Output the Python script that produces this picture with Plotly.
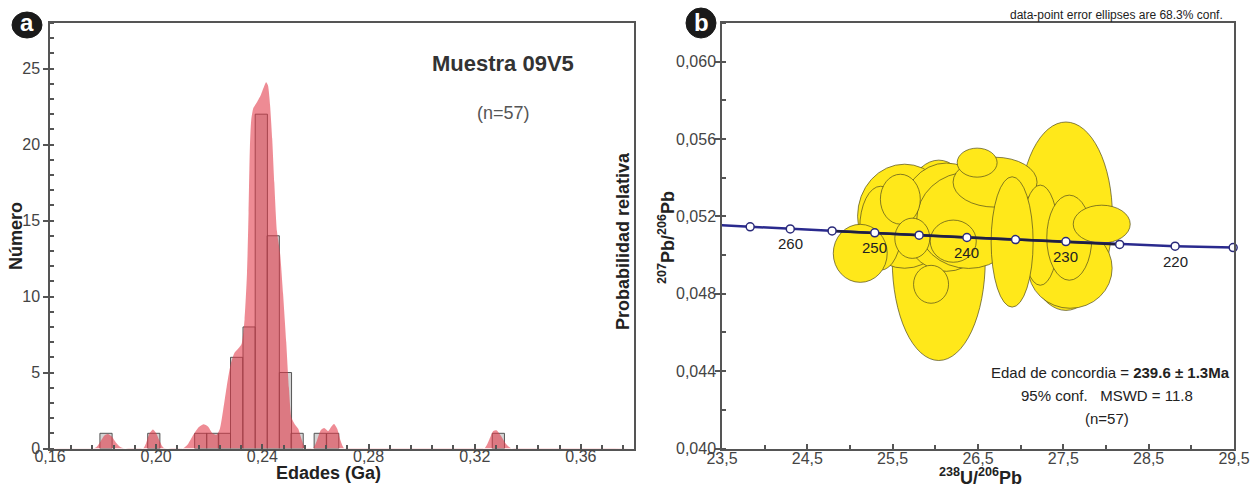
import plotly.graph_objects as go

W, H = 1251, 489

# ---------------- Panel a: histogram + probability density ----------------
bin_centers = [0.1811, 0.1991, 0.2168, 0.2213, 0.2257, 0.2303, 0.2350, 0.2396,
               0.2441, 0.2487, 0.2531, 0.2618, 0.2665, 0.3289]
bin_counts = [1, 1, 1, 1, 1, 6, 8, 22, 14, 5, 1, 1, 1, 1]
bin_width = 0.0046

kde_age = [0.160, 0.176, 0.1775, 0.1790, 0.1805, 0.1818, 0.1832, 0.1848, 0.1865, 0.1880,
           0.1950, 0.1962, 0.1975, 0.1988, 0.2000, 0.2013, 0.2028, 0.2100, 0.2120, 0.2140,
           0.2160, 0.2178, 0.2195, 0.2212, 0.2228, 0.2240, 0.2252, 0.2265, 0.2280, 0.2295,
           0.2310, 0.2322, 0.2333, 0.2342, 0.2348, 0.2353, 0.2358, 0.2366, 0.2380, 0.2395,
           0.2406, 0.2414, 0.2421, 0.2429, 0.2437, 0.2445, 0.2455, 0.2467, 0.2478, 0.2490,
           0.2500, 0.2510, 0.2522, 0.2535, 0.2548, 0.2562, 0.2590, 0.2605, 0.2620, 0.2633,
           0.2648, 0.2660, 0.2670, 0.2682, 0.2695, 0.2710, 0.3235, 0.3255, 0.3270, 0.3282,
           0.3298, 0.3318, 0.3340, 0.380]
kde_prob = [0, 0, 0.1, 0.45, 0.85, 0.95, 0.8, 0.4, 0.1, 0,
            0, 0.35, 1.0, 1.25, 1.0, 0.5, 0.05, 0, 0.3, 0.9,
            1.4, 1.6, 1.45, 1.0, 0.9, 1.3, 2.5, 4.0, 5.5, 6.3,
            6.6, 6.9, 8.5, 11.5, 15.5, 19.8, 21.6, 22.4, 22.8, 23.3,
            23.8, 24.1, 23.9, 22.6, 20.4, 17.5, 14.3, 12.8, 10.2, 7.0,
            4.0, 2.0, 1.6, 1.3, 0.6, 0, 0, 0.5, 1.2, 1.35,
            1.15, 1.45, 1.62, 1.3, 0.5, 0, 0, 0.6, 1.15, 1.2,
            0.85, 0.3, 0, 0]

# ---------------- Panel b: concordia ----------------
conc_age = [270, 265, 260, 255, 250, 245, 240, 235, 230, 225, 220, 215]
conc_x = [23.36, 23.83, 24.30, 24.79, 25.29, 25.81, 26.37, 26.94, 27.53, 28.16, 28.81, 29.49]
conc_y = [0.05157, 0.05146, 0.05135, 0.05125, 0.05115, 0.05103, 0.05091, 0.05080,
          0.05070, 0.05055, 0.05046, 0.05039]
labeled_ages = [260, 250, 240, 230, 220]

# error ellipses: centre x, centre y, semi-axis x, semi-axis y
ell_cx = [27.53, 26.04, 25.64, 26.13, 26.39, 26.70, 27.58, 25.36, 25.59, 25.12,
          26.49, 27.23, 26.90, 27.57, 27.95, 25.73, 26.21, 25.95]
ell_cy = [0.05201, 0.04973, 0.05201, 0.05196, 0.05180, 0.05377, 0.04932, 0.05139, 0.05289, 0.05009,
          0.05478, 0.05103, 0.05068, 0.05090, 0.05160, 0.05087, 0.05072, 0.04849]
ell_rx = [0.545, 0.545, 0.551, 0.539, 0.609, 0.492, 0.492, 0.246, 0.234, 0.316,
          0.234, 0.211, 0.246, 0.264, 0.334, 0.205, 0.270, 0.205]
ell_ry = [0.00487, 0.00518, 0.00269, 0.00280, 0.00249, 0.00129, 0.00207, 0.00217, 0.00129, 0.00150,
          0.00075, 0.00259, 0.00337, 0.00220, 0.00098, 0.00104, 0.00109, 0.00098]

FONT = "Liberation Sans, Arial, sans-serif"
AX = "#555555"
TXT = "#444444"

ya_dom = [1 - 448.5 / H, 1 - 23 / H]

fig = go.Figure()

fig.add_trace(go.Bar(
    x=bin_centers, y=bin_counts, width=bin_width,
    marker=dict(color="rgba(160,160,160,0.45)", line=dict(color="rgba(70,70,70,0.9)", width=1)),
    xaxis="x", yaxis="y", showlegend=False, hoverinfo="skip"))

fig.add_trace(go.Scatter(
    x=kde_age, y=kde_prob, mode="lines", fill="tozeroy",
    fillcolor="rgba(226,55,70,0.58)", line=dict(width=0, shape="spline", smoothing=0.6),
    xaxis="x", yaxis="y2", showlegend=False, hoverinfo="skip"))

# concordia line
fig.add_trace(go.Scatter(
    x=conc_x, y=conc_y, mode="lines", line=dict(color="#2a2a8e", width=2.5),
    xaxis="x2", yaxis="y3", showlegend=False, hoverinfo="skip"))
fig.add_trace(go.Scatter(
    x=conc_x[3:10], y=conc_y[3:10], mode="lines", line=dict(color="#202040", width=2.5),
    xaxis="x2", yaxis="y3", showlegend=False, hoverinfo="skip"))
fig.add_trace(go.Scatter(
    x=conc_x[1:], y=conc_y[1:], mode="markers",
    marker=dict(size=8, color="white", line=dict(color="#2a2a7a", width=1.5)),
    xaxis="x2", yaxis="y3", showlegend=False, hoverinfo="skip", cliponaxis=False))

shapes = []
for cx, cy, rx, ry in zip(ell_cx, ell_cy, ell_rx, ell_ry):
    shapes.append(dict(type="circle", xref="x2", yref="y3",
                       x0=cx - rx, x1=cx + rx, y0=cy - ry, y1=cy + ry,
                       fillcolor="#ffe81a", line=dict(color="rgba(85,80,30,0.9)", width=0.8),
                       layer="below"))

# panel labels
for (px, py, rxp, ryp) in [(27, 25, 15, 13), (701, 23, 15, 15)]:
    shapes.append(dict(type="circle", xref="paper", yref="paper",
                       x0=(px - rxp) / W, x1=(px + rxp) / W,
                       y0=1 - (py + ryp) / H, y1=1 - (py - ryp) / H,
                       fillcolor="#1a1a1a", line=dict(color="#1a1a1a", width=1), layer="above"))

annotations = []


def ann(text, px, py, size, color="#333333", angle=0, xanchor="center", bold=False):
    if bold:
        text = "<b>" + text + "</b>"
    annotations.append(dict(text=text, x=px / W, y=1 - py / H, xref="paper", yref="paper",
                            showarrow=False, textangle=angle, xanchor=xanchor, yanchor="middle",
                            font=dict(family=FONT, size=size, color=color)))


ann("a", 27, 23, 24, color="white", bold=True)
ann("b", 701, 22, 24, color="white", bold=True)
ann("Número", 16, 236, 18, color="#222222", angle=-90, bold=True)
ann("Edades (Ga)", 328, 473, 18, color="#222222", bold=True)
ann("Probabilidad relativa", 623, 241, 18, color="#222222", angle=-90, bold=True)
ann("Muestra 09V5", 503, 63, 22, color="#333333", bold=True)
ann("(n=57)", 503, 113, 18, color="#555555")
ann("data-point error ellipses are 68.3% conf.", 1116, 15, 12, color="#222222")
ann("<sup>207</sup>Pb/<sup>206</sup>Pb", 667, 238, 18, color="#222222", angle=-90, bold=True)
ann("<sup>238</sup>U/<sup>206</sup>Pb", 980, 476, 18, color="#222222", bold=True)
ann("Edad de concordia = <b>239.6 ± 1.3Ma</b>", 1110, 372, 15, color="#222222")
ann("95% conf.   MSWD = 11.8", 1107, 395, 15, color="#222222")
ann("(n=57)", 1107, 418, 15, color="#222222")

for age in labeled_ages:
    i = conc_age.index(age)
    annotations.append(dict(text=str(age), x=conc_x[i], y=conc_y[i], xref="x2", yref="y3",
                            showarrow=False, yshift=-15, xanchor="center", yanchor="middle",
                            font=dict(family=FONT, size=15, color="#222222")))

axis_common = dict(showline=True, linecolor=AX, linewidth=1.5, mirror=True, showgrid=False,
                   zeroline=False, ticklen=5, tickwidth=1.5, tickcolor=AX,
                   automargin=False,
                   tickfont=dict(family=FONT, size=16, color=TXT))

minor_common = dict(ticks="inside", ticklen=4, tickcolor=AX, tickwidth=1.5)

fig.update_layout(
    width=W, height=H, margin=dict(l=0, r=0, t=0, b=0, pad=0, autoexpand=False),
    paper_bgcolor="white", plot_bgcolor="white", separators=",.",
    showlegend=False, barmode="overlay",
    xaxis=dict(domain=[50 / W, 634 / W], range=[0.16, 0.38], anchor="y",
               tick0=0.16, dtick=0.04, tickformat=".2f", ticks="inside", ticklabelstandoff=-7,
               minor=dict(dtick=0.008, tick0=0.16, **minor_common),
               **axis_common),
    yaxis=dict(domain=ya_dom, range=[0, 28], anchor="x", tick0=0, dtick=5, tickformat="d",
               ticks="outside",
               minor=dict(dtick=1, tick0=0, **minor_common),
               **axis_common),
    yaxis2=dict(overlaying="y", anchor="x", side="right", range=[0, 28], showticklabels=False,
                showgrid=False, zeroline=False, ticks="", showline=False, automargin=False),
    xaxis2=dict(domain=[722 / W, 1234 / W], range=[23.5, 29.5], anchor="y3",
                tick0=23.5, dtick=1, tickformat=".1f", ticks="inside", ticklabelstandoff=-5,
                minor=dict(dtick=0.5, tick0=23.5, **minor_common),
                **axis_common),
    yaxis3=dict(domain=ya_dom, range=[0.040, 0.062], anchor="x2",
                tick0=0.040, dtick=0.004, tickformat=".3f", ticks="outside", ticklabelstandoff=-4,
                minor=dict(dtick=0.002, tick0=0.040, **minor_common),
                **axis_common),
    shapes=shapes, annotations=annotations,
)

fig.write_html("out.html", config={"displayModeBar": False},
               post_script="document.body.style.margin='0';document.body.style.overflow='hidden';")
